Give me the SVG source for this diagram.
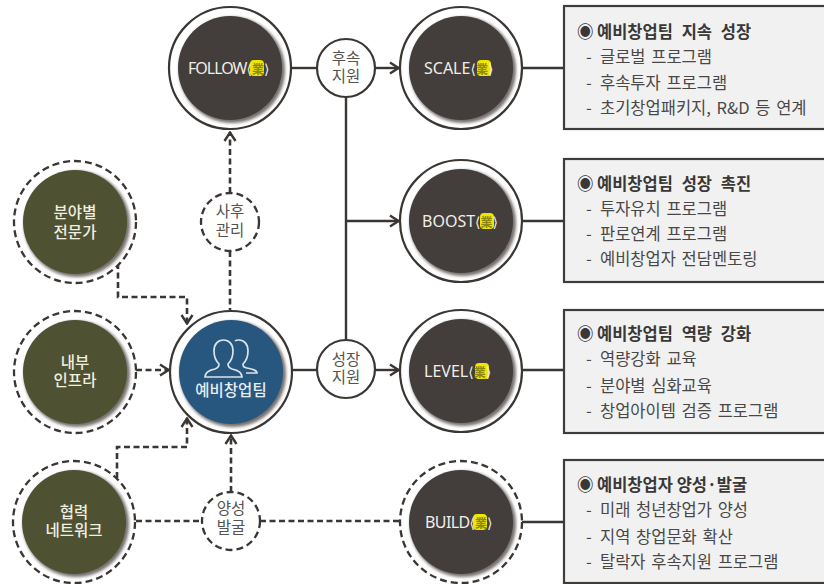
<svg xmlns="http://www.w3.org/2000/svg" width="824" height="584" viewBox="0 0 824 584">
<style>
text{font-family:"Noto Sans CJK KR","Noto Sans",sans-serif;text-anchor:middle}
.ln{fill:none;stroke:#3a3634;stroke-width:2.4}
.ds{fill:none;stroke:#3a3634;stroke-width:2.6;stroke-dasharray:6 3.5}
.ring{fill:#fff;stroke:#3a3634;stroke-width:2.2}
.dring{fill:#fff;stroke:#3a3634;stroke-width:2.3;stroke-dasharray:7 4}
.shd{fill:#77716e;filter:url(#bl)}
.dk{fill:#433d3b}
.ol{fill:#4e5232}
.bl{fill:#27577f}
.wt{fill:#f1eee0;font-family:"Liberation Sans","Noto Sans CJK KR",sans-serif;font-size:15.5px;font-weight:500}
.sm{fill:#555351;font-family:"Liberation Sans","Noto Sans CJK KR",sans-serif;font-size:15.5px}
.en{fill:#f0eee8;font-family:"Noto Sans","Noto Sans CJK KR",sans-serif;font-size:16px;text-anchor:start}
.br{font-family:"DejaVu Sans",sans-serif;font-size:14px;letter-spacing:0}
.yb{fill:#efe600}
.yl{fill:#8c8710;font-family:"Noto Sans CJK KR",sans-serif;font-size:12px;letter-spacing:0;font-weight:700}
.box{fill:#f1f1f1;stroke:#3f3d3c;stroke-width:2.2}
.hd{fill:#3a3837;font-size:16.5px;font-weight:700;text-anchor:start;word-spacing:5px}
.it{fill:#4a4847;font-size:16.5px;text-anchor:start;word-spacing:2px}
</style>
<defs>
<filter id="bl" x="-10%" y="-10%" width="120%" height="120%"><feGaussianBlur stdDeviation="1.6"/></filter>
<marker id="a" viewBox="0 0 14 14" refX="13" refY="7" markerWidth="14" markerHeight="14" markerUnits="userSpaceOnUse" orient="auto"><path d="M4 1.5 L12.5 7 L4 12.5" fill="none" stroke="#3a3634" stroke-width="2.4"/></marker>
</defs>
<rect width="824" height="584" fill="#fff"/>
<g id="connectors">
<path class="ln" d="M291 68H317"/><path class="ln" d="M375 68H399" marker-end="url(#a)"/>
<path class="ln" d="M346 97V340"/><path class="ln" d="M346 221H399" marker-end="url(#a)"/>
<path class="ln" d="M292 370H317"/><path class="ln" d="M375 370H399" marker-end="url(#a)"/>
<path class="ln" d="M522 68H563M522 221H563M522 370H563M522 522H563"/>
<path class="ds" d="M230 193V132" marker-end="url(#a)"/><path class="ds" d="M230 251V310"/>
<path class="ds" d="M118 263V297H187V324" marker-end="url(#a)"/>
<path class="ds" d="M136 370H169" marker-end="url(#a)"/>
<path class="ds" d="M117 478V447H187V418" marker-end="url(#a)"/>
<path class="ds" d="M231 492V435" marker-end="url(#a)"/>
<path class="ds" d="M136 521H201M260 521H399"/>
</g>
<g id="n-expert"><circle class="dring" cx="75" cy="222" r="61"/><circle class="shd" cx="77" cy="224" r="53"/><circle class="ol" cx="75" cy="222" r="52"/><text class="wt"><tspan x="75" y="218">분야별</tspan><tspan x="75" y="238">전문가</tspan></text></g>
<g id="n-infra"><circle class="dring" cx="75" cy="372" r="61"/><circle class="shd" cx="77" cy="374" r="53"/><circle class="ol" cx="75" cy="372" r="52"/><text class="wt"><tspan x="75" y="368">내부</tspan><tspan x="75" y="386">인프라</tspan></text></g>
<g id="n-network"><circle class="dring" cx="74" cy="522" r="61"/><circle class="shd" cx="76" cy="524" r="53"/><circle class="ol" cx="74" cy="522" r="52"/><text class="wt"><tspan x="74" y="518">협력</tspan><tspan x="74" y="536">네트워크</tspan></text></g>
<g id="n-team"><circle class="ring" cx="231" cy="372" r="61"/><circle class="shd" cx="233" cy="374" r="53"/><circle class="bl" cx="231" cy="372" r="52"/>
<path d="M205 377c0-5 5-7 10-8c3-1 4-2 4-5c-3-3-5-8-5-13c0-7 4-11 9.500-11s9.500 4 9.500 11c0 5-2 10-5 13c0 3 1 4 4 5c5 1 10 3 10 8zM235 341c1-1 3-1 4-1c5 0 9 4 9 11c0 5-2 10-5 13c0 3 1 3 4 4c5 1 10 2 10 5h-11" fill="none" stroke="#dbe4ea" stroke-width="1.7"/>
<text x="231" y="396" fill="#e6edf2" font-size="15.5" font-weight="500">예비창업팀</text></g>
<g id="n-follow"><circle class="ring" cx="230" cy="68" r="61"/><circle class="shd" cx="232" cy="70" r="53"/><circle class="dk" cx="230" cy="68" r="52"/><rect class="yb" x="250" y="60" width="14" height="16" rx="4"/><text class="en" x="188" y="74" style="letter-spacing:-1px">FOLLOW<tspan class="br">⟨</tspan><tspan class="yl">業</tspan><tspan class="br">⟩</tspan></text></g>
<g id="n-scale"><circle class="ring" cx="461" cy="68" r="61"/><circle class="shd" cx="463" cy="70" r="53"/><circle class="dk" cx="461" cy="68" r="52"/><rect class="yb" x="477" y="60" width="14" height="16" rx="4"/><text class="en" x="424" y="74">SCALE<tspan class="br">⟨</tspan><tspan class="yl">業</tspan><tspan class="br">⟩</tspan></text></g>
<g id="n-boost"><circle class="ring" cx="461" cy="221" r="61"/><circle class="shd" cx="463" cy="223" r="53"/><circle class="dk" cx="461" cy="221" r="52"/><rect class="yb" x="480" y="213" width="14" height="16" rx="4"/><text class="en" x="422" y="227">BOOST<tspan class="br">⟨</tspan><tspan class="yl">業</tspan><tspan class="br">⟩</tspan></text></g>
<g id="n-level"><circle class="ring" cx="461" cy="371" r="61"/><circle class="shd" cx="463" cy="373" r="53"/><circle class="dk" cx="461" cy="371" r="52"/><rect class="yb" x="475" y="363" width="14" height="16" rx="4"/><text class="en" x="424" y="377">LEVEL<tspan class="br">⟨</tspan><tspan class="yl">業</tspan><tspan class="br">⟩</tspan></text></g>
<g id="n-build"><circle class="dring" cx="461" cy="522" r="61"/><circle class="shd" cx="463" cy="524" r="53"/><circle class="dk" cx="461" cy="522" r="52"/><rect class="yb" x="473" y="514" width="14" height="16" rx="4"/><text class="en" x="425" y="528" style="letter-spacing:-.6px">BUILD<tspan class="br">⟨</tspan><tspan class="yl">業</tspan><tspan class="br">⟩</tspan></text></g>
<g id="n-after"><circle class="dring" cx="230" cy="222" r="29" stroke-dasharray="5 3"/><text class="sm"><tspan x="230" y="217">사후</tspan><tspan x="230" y="236">관리</tspan></text></g>
<g id="n-follow-support"><circle class="ring" cx="346" cy="68" r="29"/><text class="sm"><tspan x="346" y="64">후속</tspan><tspan x="346" y="82">지원</tspan></text></g>
<g id="n-growth-support"><circle class="ring" cx="346" cy="369" r="29"/><text class="sm"><tspan x="346" y="365">성장</tspan><tspan x="346" y="383">지원</tspan></text></g>
<g id="n-nurture"><circle class="dring" cx="231" cy="521" r="29" stroke-dasharray="5 3"/><text class="sm"><tspan x="231" y="514">양성</tspan><tspan x="231" y="533">발굴</tspan></text></g>
<g id="b-scale"><rect class="box" x="564" y="6" width="270" height="123"/>
<text class="hd" x="577" y="38">◉<tspan x="597">예비창업팀 지속 성장</tspan></text><text class="it" x="586" y="63">-<tspan x="600">글로벌 프로그램</tspan></text><text class="it" x="586" y="89">-<tspan x="600">후속투자 프로그램</tspan></text><text class="it" x="586" y="114">-<tspan x="600">초기창업패키지, R&amp;D 등 연계</tspan></text></g>
<g id="b-boost"><rect class="box" x="564" y="159" width="270" height="123"/>
<text class="hd" x="577" y="190">◉<tspan x="597">예비창업팀 성장 촉진</tspan></text><text class="it" x="586" y="215">-<tspan x="600">투자유치 프로그램</tspan></text><text class="it" x="586" y="240">-<tspan x="600">판로연계 프로그램</tspan></text><text class="it" x="586" y="265">-<tspan x="600">예비창업자 전담멘토링</tspan></text></g>
<g id="b-level"><rect class="box" x="564" y="310" width="270" height="123"/>
<text class="hd" x="577" y="340">◉<tspan x="597">예비창업팀 역량 강화</tspan></text><text class="it" x="586" y="365">-<tspan x="600">역량강화 교육</tspan></text><text class="it" x="586" y="392">-<tspan x="600">분야별 심화교육</tspan></text><text class="it" x="586" y="417">-<tspan x="600">창업아이템 검증 프로그램</tspan></text></g>
<g id="b-build"><rect class="box" x="564" y="460" width="270" height="123"/>
<text class="hd" x="577" y="491" style="word-spacing:0">◉<tspan x="597">예비창업자 양성·발굴</tspan></text><text class="it" x="586" y="516">-<tspan x="600">미래 청년창업가 양성</tspan></text><text class="it" x="586" y="543">-<tspan x="600">지역 창업문화 확산</tspan></text><text class="it" x="586" y="568">-<tspan x="600">탈락자 후속지원 프로그램</tspan></text></g>
</svg>
